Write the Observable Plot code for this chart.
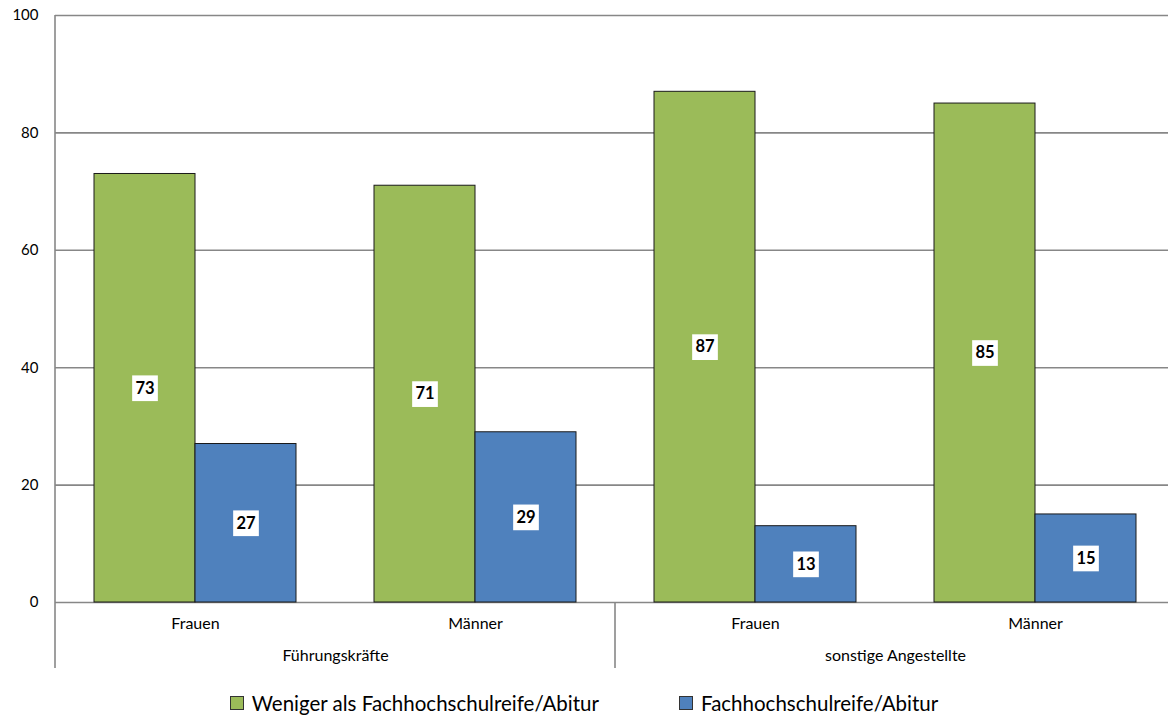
<!DOCTYPE html>
<html>
<head>
<meta charset="utf-8">
<script src="https://cdn.jsdelivr.net/npm/d3@7"></script>
<script src="https://cdn.jsdelivr.net/npm/@observablehq/plot@0.6"></script>
<style>
  html, body { margin: 0; padding: 0; background: #fff; }
  #chart svg { display: block; }
  .legend { display: flex; justify-content: center; gap: 80px; font-family: Lato, "Open Sans", sans-serif; font-size: 20.5px; color: #000; height: 37px; align-items: center; padding-top: 8px; box-sizing: border-box; }
  .legend .item { display: flex; align-items: center; gap: 8px; }
  .legend .sw { width: 12px; height: 12px; border: 1px solid #333; }
</style>
</head>
<body>
<div id="chart"></div>
<div class="legend" id="legend"></div>
<script>
const categories = ["Frauen", "Männer", "Frauen", "Männer"];
const groups = ["Führungskräfte", "Führungskräfte", "sonstige Angestellte", "sonstige Angestellte"];
const series = ["Weniger als Fachhochschulreife/Abitur", "Fachhochschulreife/Abitur"];
const lowerValues = [73, 71, 87, 85];
const higherValues = [27, 29, 13, 15];
const yTicks = [0, 20, 40, 60, 80, 100];
const colors = ["#9BBB59", "#4F81BD"];

const keys = categories.map((c, i) => `${groups[i]} · ${c}`);
const cats = categories.map((c, i) => ({key: keys[i], sub: c, group: groups[i]}));
const groupLabels = cats.filter((d, i) => i === 0 || groups[i - 1] !== groups[i]);
const data = [];
cats.forEach((c, i) => {
  data.push({key: c.key, series: series[0], value: lowerValues[i]});
  data.push({key: c.key, series: series[1], value: higherValues[i]});
});

const font = "Lato, 'Open Sans', sans-serif";
const plot = Plot.plot({
  width: 1168,
  height: 680,
  marginLeft: 54,
  marginRight: 0,
  marginTop: 15,
  marginBottom: 78,
  style: {fontFamily: font, color: "#000", background: "#fff", overflow: "visible"},
  fx: {domain: keys, range: [54, 1175], padding: 0, axis: null},
  x: {domain: series, paddingInner: 0, paddingOuter: 0.374, axis: null},
  y: {domain: [0, 100], axis: null},
  color: {domain: series, range: colors},
  marks: [
    Plot.gridY({ticks: yTicks, stroke: "#878787", strokeOpacity: 1, strokeWidth: 1.6}),
    Plot.axisY({ticks: yTicks, tickSize: 0, tickPadding: 17, fontSize: 15, label: null}),
    Plot.barY(data, {fx: "key", x: "series", y: "value", fill: "series", stroke: "#1a1a1a", strokeWidth: 1}),
    Plot.dot(data, {fx: "key", x: "series", y: d => d.value / 2, symbol: "square", r: 14.5, fill: "white"}),
    Plot.text(data, {fx: "key", x: "series", y: d => d.value / 2, text: "value", fontWeight: "bold", fontSize: 16.5, fill: "#000"}),
    Plot.text(cats, {fx: "key", text: "sub", frameAnchor: "bottom", dy: 26, fontSize: 16, fill: "#000"}),
    Plot.text(groupLabels, {fx: "key", text: "group", frameAnchor: "bottom-right", textAnchor: "middle", dy: 58, fontSize: 16, fill: "#000"})
  ]
});
document.getElementById("chart").appendChild(plot);

// axis lines of the category axis (left axis line and group divider)
const svg = d3.select(plot);
const fxs = plot.scale("fx");
const ys = plot.scale("y");
const y0 = ys.apply(0);
const lines = [
  {x: fxs.apply(keys[0]), y1: ys.apply(100), y2: y0 + 66},
  {x: fxs.apply(keys[2]), y1: y0, y2: y0 + 66}
];
svg.append("g").selectAll("line").data(lines).join("line")
  .attr("x1", d => d.x).attr("x2", d => d.x)
  .attr("y1", d => d.y1).attr("y2", d => d.y2)
  .attr("stroke", "#878787").attr("stroke-width", 1.6);

const legend = document.getElementById("legend");
series.forEach((s, i) => {
  const item = document.createElement("div");
  item.className = "item";
  const sw = document.createElement("span");
  sw.className = "sw";
  sw.style.background = colors[i];
  const t = document.createElement("span");
  t.textContent = s;
  item.appendChild(sw); item.appendChild(t);
  legend.appendChild(item);
});
</script>
</body>
</html>
